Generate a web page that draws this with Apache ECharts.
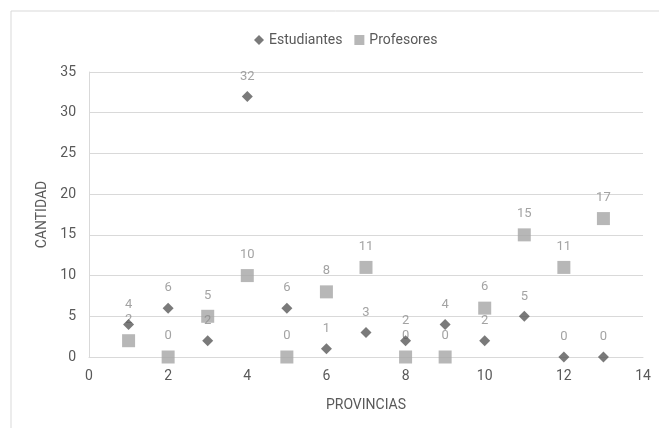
<!DOCTYPE html>
<html>
<head>
<meta charset="utf-8">
<script src="https://cdn.jsdelivr.net/npm/echarts@6/dist/echarts.min.js"></script>
<style>html,body{margin:0;padding:0;background:#fff;}#c{width:659px;height:428px;}</style>
</head>
<body>
<div id="c"></div>
<script>
const provincias = [1, 2, 3, 4, 5, 6, 7, 8, 9, 10, 11, 12, 13];
const estudiantes = [4, 6, 2, 32, 6, 1, 3, 2, 4, 2, 5, 0, 0];
const profesores = [2, 0, 5, 10, 0, 8, 11, 0, 0, 6, 15, 11, 17];
const xTicks = [0, 2, 4, 6, 8, 10, 12, 14];
const yTicks = [0, 5, 10, 15, 20, 25, 30, 35];

const FONT = 'Roboto';
const chart = echarts.init(document.getElementById('c'));
const labelStyle = {show: true, position: 'top', distance: 8, color: '#8c8c8c', fontSize: 13, fontFamily: FONT, formatter: p => p.value[1]};
chart.setOption({
  animation: false,
  textStyle: {fontFamily: FONT},
  graphic: [{type: 'rect', shape: {x: 11, y: 11, width: 800, height: 600}, style: {fill: 'none', stroke: '#d9d9d9', lineWidth: 1}, silent: true}],
  legend: {
    top: 28, left: 249, itemGap: 12, itemWidth: 10, itemHeight: 10,
    textStyle: {color: '#595959', fontSize: 14, fontFamily: FONT},
    data: [{name: 'Estudiantes', icon: 'diamond'}, {name: 'Profesores', icon: 'rect'}]
  },
  grid: {left: 89, top: 72, right: 16, bottom: 71},
  xAxis: {
    type: 'value', min: xTicks[0], max: xTicks[xTicks.length - 1], interval: 2,
    name: 'PROVINCIAS', nameLocation: 'middle', nameGap: 41,
    nameTextStyle: {color: '#595959', fontSize: 14, fontFamily: FONT},
    axisLine: {show: true, lineStyle: {color: '#d9d9d9'}}, axisTick: {show: false},
    axisLabel: {color: '#595959', fontSize: 14, fontFamily: FONT, margin: 12},
    splitLine: {show: false}
  },
  yAxis: {
    type: 'value', min: yTicks[0], max: yTicks[yTicks.length - 1], interval: 5,
    name: 'CANTIDAD', nameLocation: 'middle', nameGap: 40, nameRotate: 90,
    nameTextStyle: {color: '#595959', fontSize: 14, fontFamily: FONT},
    axisLine: {show: true, lineStyle: {color: '#d9d9d9'}}, axisTick: {show: false},
    axisLabel: {color: '#595959', fontSize: 14, fontFamily: FONT, margin: 13},
    splitLine: {show: true, lineStyle: {color: '#d9d9d9'}}
  },
  series: [
    {name: 'Estudiantes', type: 'scatter', symbol: 'diamond', symbolSize: 11,
     itemStyle: {color: '#595959'}, label: labelStyle, z: 3,
     data: provincias.map((x, i) => [x, estudiantes[i]])},
    {name: 'Profesores', type: 'scatter', symbol: 'rect', symbolSize: 13,
     itemStyle: {color: '#a5a5a5'}, label: labelStyle, z: 2,
     data: provincias.map((x, i) => [x, profesores[i]])}
  ]
});
</script>
</body>
</html>
